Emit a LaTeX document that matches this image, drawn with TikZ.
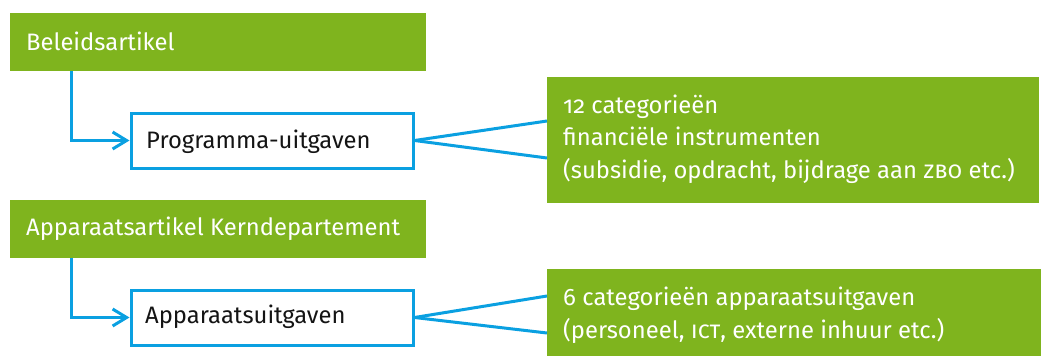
\documentclass[tikz,border=0pt]{standalone}
\usepackage{fontspec}
\setmainfont{Fira Sans}[Numbers=OldStyle]
\usetikzlibrary{arrows.meta}
\definecolor{rgreen}{RGB}{127,180,30}
\definecolor{rblue}{RGB}{10,160,225}
\definecolor{rtext}{RGB}{20,20,20}
\tikzset{
  gbox/.style={fill=rgreen, draw=none, inner sep=0pt, outer sep=0pt, anchor=north west},
  wbox/.style={draw=rblue, line width=3pt, fill=white, inner sep=0pt, anchor=north west},
  wtext/.style={text=white, inner sep=0pt, anchor=base west, font=\fontsize{23.8}{32.5}\selectfont},
  btext/.style={text=rtext, inner sep=0pt, anchor=base west, font=\fontsize{23.8}{32.5}\selectfont},
  conn/.style={draw=rblue, line width=3pt},
  arr/.style={conn, -{Straight Barb[length=14pt, width=17pt, line width=3pt]}},
}
\begin{document}
\begin{tikzpicture}[x=1pt, y=-1pt]
\useasboundingbox (0,0) rectangle (1041,356);
% top group
\node[gbox, minimum width=416pt, minimum height=58pt] (ba) at (10,13) {};
\node[wtext] (bat) at (26,50) {Beleidsartikel};
\node[wbox, minimum width=282pt, minimum height=55pt] (pu) at (129.5,111.5) {};
\node[btext] (put) at (146,148) {Programma-uitgaven};
\node[gbox, minimum width=492pt, minimum height=126pt] (fi) at (547,77) {};
\node[wtext] (fit1) at (563,113) {12 categorieën};
\node[wtext] (fit2) at (563,145.5) {financiële instrumenten};
\node[wtext] (fit3) at (563,178) {(subsidie, opdracht, bijdrage aan \textsc{zbo} etc.)};
\coordinate (fi1) at (547,121);
\coordinate (fi2) at (547,158);
\draw[arr] ([xshift=61pt]ba.south west) |- (pu.west);
\draw[conn] (pu.east) -- (fi1);
\draw[conn] (pu.east) -- (fi2);
% bottom group
\node[gbox, minimum width=416pt, minimum height=58pt] (aa) at (10,200) {};
\node[wtext] (aat) at (26,235) {Apparaatsartikel Kerndepartement};
\node[wbox, minimum width=282pt, minimum height=55pt] (au) at (129.5,288.5) {};
\node[btext] (aut) at (145,323) {Apparaatsuitgaven};
\node[gbox, minimum width=494pt, minimum height=87pt] (ac) at (547,269) {};
\node[wtext] (act1) at (563,305) {6 categorieën apparaatsuitgaven};
\node[wtext] (act2) at (563,338) {(personeel, \textsc{ict}, externe inhuur etc.)};
\coordinate (ac1) at (547,296);
\coordinate (ac2) at (547,333);
\draw[arr] ([xshift=61pt]aa.south west) |- (au.west);
\draw[conn] (au.east) -- (ac1);
\draw[conn] (au.east) -- (ac2);
\end{tikzpicture}
\end{document}
